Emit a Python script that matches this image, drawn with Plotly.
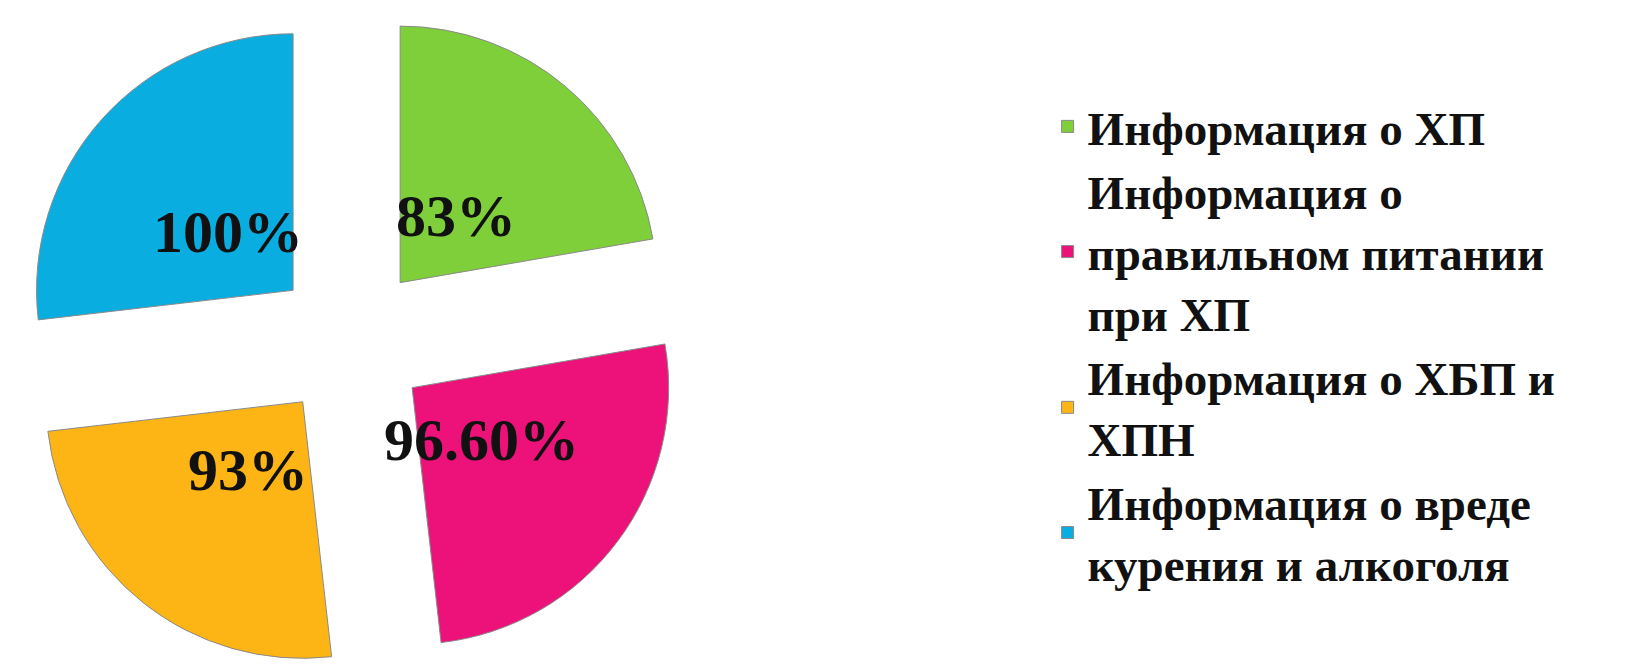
import math
import plotly.graph_objects as go

categories = [
    "Информация о ХП",
    "Информация о<br>правильном питании<br>при ХП",
    "Информация о ХБП и<br>ХПН",
    "Информация о вреде<br>курения и алкоголя",
]
values = [83, 96.6, 93, 100]
value_labels = ["83%", "96.60%", "93%", "100%"]
colors = ["#7FCF3B", "#EC1279", "#FDB515", "#0AADE0"]

W, H = 1632, 667
PULL = 0.30
DOM_X = [0.0055, 0.4143]
DOM_Y = [0.0, 1.0]
SERIF = "Liberation Serif"

fig = go.Figure(
    go.Pie(
        labels=categories,
        values=values,
        textinfo="none",
        sort=False,
        direction="clockwise",
        rotation=0,
        pull=[PULL] * len(values),
        marker=dict(colors=colors, line=dict(color="#8a8a8a", width=1)),
        domain=dict(x=DOM_X, y=DOM_Y),
        hoverinfo="label+value",
    )
)

# value labels placed along each slice's bisector (derived from the data)
cx = W * (DOM_X[0] + DOM_X[1]) / 2
cy = H * (1 - (DOM_Y[0] + DOM_Y[1]) / 2)
r = min(W * (DOM_X[1] - DOM_X[0]), H * (DOM_Y[1] - DOM_Y[0])) / (2 + 2 * PULL)
total = sum(values)
cum = 0.0
for v, t in zip(values, value_labels):
    mid = (cum + v / 2) / total * 2 * math.pi
    cum += v
    dist = (PULL + 0.34) * r
    px = cx + dist * math.sin(mid)
    py = cy - dist * math.cos(mid)
    fig.add_annotation(
        x=px / W, y=1 - py / H, xref="paper", yref="paper",
        text=t, showarrow=False,
        font=dict(family=SERIF, size=60, color="#111111", weight="bold"),
        xanchor="center", yanchor="middle",
    )

fig.update_layout(
    width=W,
    height=H,
    margin=dict(l=0, r=0, t=0, b=0),
    paper_bgcolor="white",
    plot_bgcolor="white",
    font=dict(family=SERIF, color="#111111"),
    showlegend=True,
    legend=dict(
        x=0.637,
        xanchor="left",
        y=0.495,
        yanchor="middle",
        font=dict(family=SERIF, size=47, color="#111111", weight="bold"),
        valign="middle",
        tracegroupgap=0,
        itemclick=False,
    ),
)

fig.write_html("out.html")
